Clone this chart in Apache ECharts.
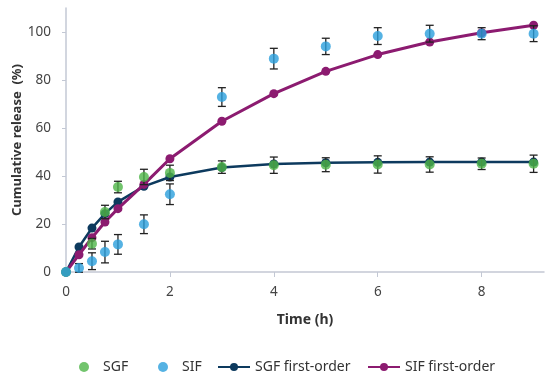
<!DOCTYPE html>
<html>
<head>
<meta charset="utf-8">
<script src="https://cdn.jsdelivr.net/npm/echarts@6/dist/echarts.min.js"></script>
<style>html,body{margin:0;padding:0;background:#fff}#c{width:550px;height:374px}</style>
</head>
<body>
<div id="c"></div>
<script>
var time = [0, 0.25, 0.5, 0.75, 1, 1.5, 2, 3, 4, 5, 6, 7, 8, 9];
var sgf = [0, null, 11.8, 25.0, 35.4, 39.6, 41.3, 43.7, 44.5, 44.7, 44.8, 44.8, 45.1, 45.1];
var sgfErr = [0, 0, 2.2, 2.8, 2.4, 3.2, 3.2, 2.6, 3.4, 2.9, 3.6, 3.2, 2.4, 3.6];
var sif = [0, 1.7, 4.5, 8.3, 11.5, 19.9, 32.4, 72.9, 88.9, 94.0, 98.3, 99.3, 99.3, 99.3];
var sifErr = [0, 1.8, 3.5, 4.5, 4.1, 3.9, 4.3, 3.9, 4.3, 3.4, 3.5, 3.5, 2.5, 3.3];
var sgfFit = [0, 10.4, 18.3, 24.3, 29.2, 35.7, 39.6, 43.5, 45.0, 45.5, 45.7, 45.8, 45.8, 45.8];
var sifFit = [0, 7.2, 14.3, 20.8, 26.4, 36.5, 47.2, 62.8, 74.3, 83.6, 90.6, 95.8, 99.7, 102.8];
var xTicks = [0, 2, 4, 6, 8];
var yTicks = [0, 20, 40, 60, 80, 100];
var legendNames = ['SGF', 'SIF', 'SGF first-order', 'SIF first-order'];

function pairs(xs, ys) { return xs.map(function (x, i) { return [x, ys[i] == null ? '-' : ys[i]]; }); }
function errData(xs, ys, es) {
  return xs.map(function (x, i) { return ys[i] == null ? [x, '-', 0] : [x, ys[i], es[i]]; });
}

function errRender(params, api) {
  var x = api.value(0), y = api.value(1), e = api.value(2);
  if (!e || isNaN(y)) return null;
  var top = api.coord([x, y + e]);
  var bot = api.coord([x, y - e]);
  var w = 4;
  var st = { stroke: '#222', lineWidth: 1.3 };
  return {
    type: 'group',
    children: [
      { type: 'line', shape: { x1: top[0], y1: top[1], x2: bot[0], y2: bot[1] }, style: st },
      { type: 'line', shape: { x1: top[0] - w, y1: top[1], x2: top[0] + w, y2: top[1] }, style: st },
      { type: 'line', shape: { x1: bot[0] - w, y1: bot[1], x2: bot[0] + w, y2: bot[1] }, style: st }
    ]
  };
}

var cGreen = '#4fb548', cBlue = '#2b9fdc', cNavy = '#0d3a5e', cPurple = '#8c1b70';
var axisCol = '#c3c8d4';
var font = 'Noto Sans';

function mkLegend(name, left, w, pad) {
  return {
    data: [name], left: left, top: 359,
    itemWidth: w, itemHeight: 10, itemGap: 0, padding: 0,
    textStyle: { fontFamily: font, fontSize: 14, color: '#333', padding: [0, 0, 0, pad], lineHeight: 16 }
  };
}

var chart = echarts.init(document.getElementById('c'), null, { renderer: 'canvas' });
chart.setOption({
  animation: false,
  textStyle: { fontFamily: font },
  grid: { left: 66, right: 6, top: 8, bottom: 102, containLabel: false, outerBoundsMode: 'none' },
  legend: [
    mkLegend(legendNames[0], 79, 10, 9),
    mkLegend(legendNames[1], 158, 10, 9),
    mkLegend(legendNames[2], 217, 32, 0),
    mkLegend(legendNames[3], 367, 32, 0)
  ],
  xAxis: {
    type: 'value', min: 0, max: 9.2, interval: 2,
    name: 'Time (h)', nameLocation: 'middle', nameGap: 41, nameMoveOverlap: false,
    nameTextStyle: { fontFamily: font, fontSize: 14, fontWeight: 'bold', color: '#333' },
    axisLine: { show: true, lineStyle: { color: axisCol, width: 1.5 } },
    axisTick: { show: true, length: 5, lineStyle: { color: axisCol }, customValues: xTicks },
    axisLabel: { fontSize: 13.5, color: '#444', margin: 13, customValues: xTicks },
    splitLine: { show: false }
  },
  yAxis: {
    type: 'value', min: 0, max: 110, interval: 10,
    name: 'Cumulative release  (%)', nameLocation: 'middle', nameGap: 42, nameMoveOverlap: false,
    nameTextStyle: { fontFamily: font, fontSize: 13, fontWeight: 'bold', color: '#333' },
    axisLine: { show: true, lineStyle: { color: axisCol, width: 1.5 } },
    axisTick: { show: true, length: 4, lineStyle: { color: axisCol }, customValues: yTicks },
    axisLabel: { fontSize: 13.5, color: '#444', margin: 15, customValues: yTicks },
    splitLine: { show: false }
  },
  series: [
    {
      name: 'SGF first-order', type: 'line', data: pairs(time, sgfFit), z: 2,
      symbol: 'circle', symbolSize: 9, showSymbol: true,
      lineStyle: { color: cNavy, width: 2.5 }, itemStyle: { color: cNavy }
    },
    {
      name: 'SIF first-order', type: 'line', data: pairs(time, sifFit), z: 3,
      symbol: 'circle', symbolSize: 9, showSymbol: true,
      lineStyle: { color: cPurple, width: 3 }, itemStyle: { color: cPurple }
    },
    {
      name: 'SGFerr', type: 'custom', renderItem: errRender, data: errData(time, sgf, sgfErr), z: 4,
      encode: { x: 0, y: 1 }, silent: true
    },
    {
      name: 'SIFerr', type: 'custom', renderItem: errRender, data: errData(time, sif, sifErr), z: 4,
      encode: { x: 0, y: 1 }, silent: true
    },
    {
      name: 'SGF', type: 'scatter', data: pairs(time, sgf), z: 5,
      symbol: 'circle', symbolSize: 10, itemStyle: { color: cGreen }
    },
    {
      name: 'SIF', type: 'scatter', data: pairs(time, sif), z: 6,
      symbol: 'circle', symbolSize: 10, itemStyle: { color: cBlue }
    }
  ]
});
</script>
</body>
</html>
